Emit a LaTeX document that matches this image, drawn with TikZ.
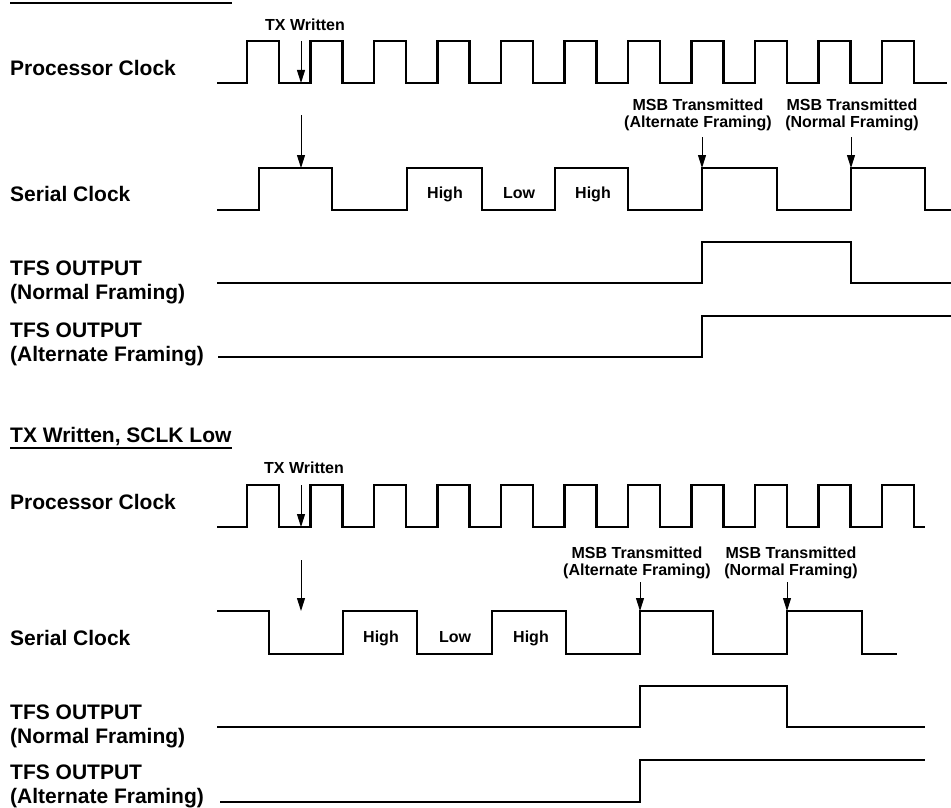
\documentclass[tikz,border=0pt]{standalone}
\usepackage{fontspec}
\setmainfont{Liberation Sans}
\usetikzlibrary{arrows.meta}
\begin{document}
\begin{tikzpicture}[x=1pt,y=-1pt,
  wave/.style={line width=2.2pt, line join=miter, line cap=butt},
  uline/.style={line width=1.6pt},
  tarrow/.style={line width=1pt, -{Triangle[length=13pt,width=8pt]}},
  biglabel/.style={font=\fontsize{21}{24}\selectfont\bfseries, anchor=west, inner sep=0pt, align=left},
  smalllabel/.style={font=\fontsize{16}{17.5}\selectfont\bfseries, inner sep=0pt, align=center}]
\useasboundingbox (0,0) rectangle (951,808);

% ---------------- top section ----------------
\draw[uline] (10,3) -- (232,3);

\node[biglabel, anchor=base west] (pc1) at (10,75.5) {Processor Clock};
\node[biglabel, anchor=base west] (sc1) at (10,201.5) {Serial Clock};
\node[biglabel] (tn1) at (10,282) {TFS OUTPUT\\(Normal Framing)};
\node[biglabel] (ta1) at (10,344.5) {TFS OUTPUT\\(Alternate Framing)};

\node[smalllabel, anchor=base] (tx1) at (305,30.7) {TX Written};
\node[smalllabel] (msba1) at (698,115) {MSB Transmitted\\(Alternate Framing)};
\node[smalllabel] (msbn1) at (852,115) {MSB Transmitted\\(Normal Framing)};
\node[smalllabel, anchor=base] (h1a) at (445,198.7) {High};
\node[smalllabel, anchor=base] (l1) at (519,198.7) {Low};
\node[smalllabel, anchor=base] (h1b) at (593,198.7) {High};

% processor clock
\draw[wave] (217,83) foreach \k in {0,...,10} {
  -- ({247+63.5*\k},83) -- ({247+63.5*\k},41) -- ({279+63.5*\k},41) -- ({279+63.5*\k},83) } -- (947,83);
% serial clock
\draw[wave] (217,210) -- (259,210) -- (259,168) -- (332,168) -- (332,210) -- (407,210) -- (407,168)
  -- (482,168) -- (482,210) -- (555,210) -- (555,168) -- (628,168) -- (628,210) -- (702,210)
  -- (702,168) -- (777,168) -- (777,210) -- (851,210) -- (851,168) -- (925,168) -- (925,210) -- (951,210);
% TFS
\draw[wave] (217,283) -- (702,283) -- (702,242) -- (851,242) -- (851,283) -- (951,283);
\draw[wave] (218,357) -- (702,357) -- (702,316) -- (951,316);

% arrows
\coordinate (a1s) at (301,41);  \coordinate (a1e) at (301,83);
\coordinate (a2s) at (301,115); \coordinate (a2e) at (301,168);
\coordinate (a3s) at (702,137); \coordinate (a3e) at (702,168);
\coordinate (a4s) at (851,137); \coordinate (a4e) at (851,168);
\draw[tarrow] (a1s) -- (a1e);
\draw[tarrow] (a2s) -- (a2e);
\draw[tarrow] (a3s) -- (a3e);
\draw[tarrow] (a4s) -- (a4e);

% ---------------- bottom section ----------------
\node[biglabel, anchor=base west] (title2) at (10,442.5) {TX Written, SCLK Low};
\draw[uline] (10,448) -- (232,448);

\node[biglabel, anchor=base west] (pc2) at (10,509.5) {Processor Clock};
\node[biglabel, anchor=base west] (sc2) at (10,645.5) {Serial Clock};
\node[biglabel] (tn2) at (10,726) {TFS OUTPUT\\(Normal Framing)};
\node[biglabel] (ta2) at (10,786) {TFS OUTPUT\\(Alternate Framing)};

\node[smalllabel, anchor=base] (tx2) at (304,473.7) {TX Written};
\node[smalllabel] (msba2) at (637,563) {MSB Transmitted\\(Alternate Framing)};
\node[smalllabel] (msbn2) at (791,563) {MSB Transmitted\\(Normal Framing)};
\node[smalllabel, anchor=base] (h2a) at (381,642.7) {High};
\node[smalllabel, anchor=base] (l2) at (455,642.7) {Low};
\node[smalllabel, anchor=base] (h2b) at (531,642.7) {High};

% processor clock
\draw[wave] (217,527) foreach \k in {0,...,10} {
  -- ({247+63.5*\k},527) -- ({247+63.5*\k},485) -- ({279+63.5*\k},485) -- ({279+63.5*\k},527) } -- (925,527);
% serial clock
\draw[wave] (217,611) -- (269,611) -- (269,654) -- (343,654) -- (343,611) -- (417,611) -- (417,654)
  -- (492,654) -- (492,611) -- (566,611) -- (566,654) -- (640,654) -- (640,611) -- (713,611)
  -- (713,654) -- (787,654) -- (787,611) -- (862,611) -- (862,654) -- (897,654);
% TFS
\draw[wave] (217,727) -- (640,727) -- (640,686) -- (787,686) -- (787,727) -- (925,727);
\draw[wave] (220,802) -- (640,802) -- (640,760) -- (925,760);

% arrows
\coordinate (b1s) at (301,485); \coordinate (b1e) at (301,527);
\coordinate (b2s) at (301,560); \coordinate (b2e) at (301,611);
\coordinate (b3s) at (640,582); \coordinate (b3e) at (640,611);
\coordinate (b4s) at (787,582); \coordinate (b4e) at (787,611);
\draw[tarrow] (b1s) -- (b1e);
\draw[tarrow] (b2s) -- (b2e);
\draw[tarrow] (b3s) -- (b3e);
\draw[tarrow] (b4s) -- (b4e);
\end{tikzpicture}
\end{document}
